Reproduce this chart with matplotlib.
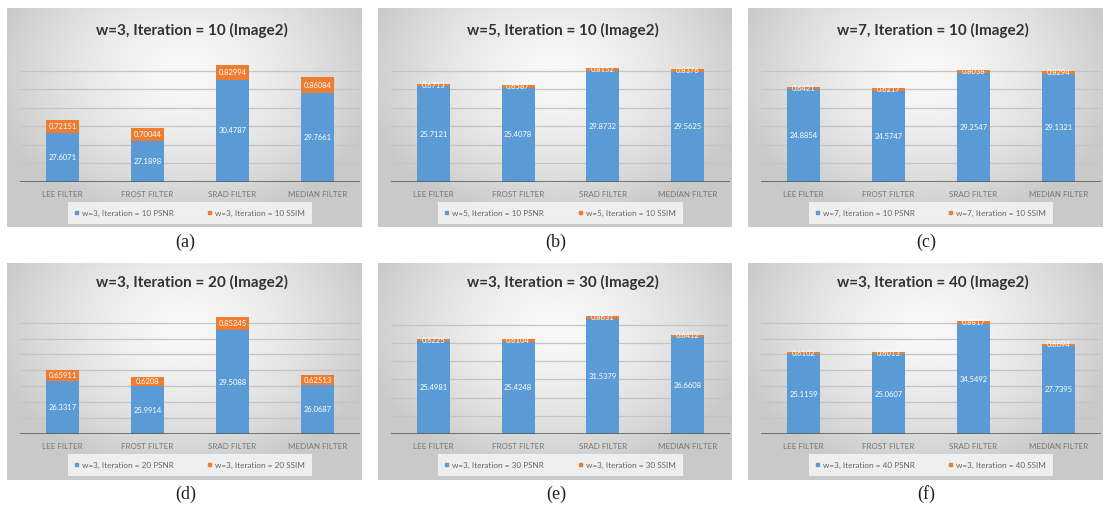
import numpy as np
import matplotlib
matplotlib.use("Agg")
import matplotlib.pyplot as plt
from matplotlib.patches import Patch

# ---------------- data ----------------
categories = ["LEE FILTER", "FROST FILTER", "SRAD FILTER", "MEDIAN FILTER"]

titles = ["w=3, Iteration = 10 (Image2)", "w=5, Iteration = 10 (Image2)",
          "w=7, Iteration = 10 (Image2)", "w=3, Iteration = 20 (Image2)",
          "w=3, Iteration = 30 (Image2)", "w=3, Iteration = 40 (Image2)"]
series_names = ["w=3, Iteration = 10", "w=5, Iteration = 10", "w=7, Iteration = 10",
                "w=3, Iteration = 20", "w=3, Iteration = 30", "w=3, Iteration = 40"]
captions = ["(a)", "(b)", "(c)", "(d)", "(e)", "(f)"]

psnr_a = [27.6071, 27.1898, 30.4787, 29.7661]
ssim_a = [0.72151, 0.70044, 0.82994, 0.86084]
psnr_b = [25.7121, 25.4078, 29.8732, 29.5625]
ssim_b = [0.6713, 0.6587, 0.8152, 0.8376]
psnr_c = [24.8854, 24.5747, 29.2547, 29.1321]
ssim_c = [0.6421, 0.6217, 0.8038, 0.8294]
psnr_d = [26.3317, 25.9914, 29.5088, 26.0687]
ssim_d = [0.65911, 0.6208, 0.85245, 0.62513]
psnr_e = [25.4981, 25.4248, 31.5379, 26.6608]
ssim_e = [0.6225, 0.6104, 0.8631, 0.6412]
psnr_f = [25.1159, 25.0607, 34.5492, 27.7395]
ssim_f = [0.6102, 0.6013, 0.8817, 0.6694]

psnr_all = [psnr_a, psnr_b, psnr_c, psnr_d, psnr_e, psnr_f]
ssim_all = [ssim_a, ssim_b, ssim_c, ssim_d, ssim_e, ssim_f]
y_ranges = [(25, 32, 1), (0, 35, 5), (0, 35, 5), (23, 31, 1), (0, 35, 5), (0, 40, 5)]

# ---------------- layout (pixels) ----------------
W, H = 1106, 508
fig = plt.figure(figsize=(W / 100, H / 100), dpi=100)
fig.patch.set_facecolor("white")

col_left = [7, 378, 748]
col_right = [362, 732, 1103]
row_top = [8, 263]
row_bot = [227, 480]
plot_top = [52, 306.7]
plot_bot = [181.7, 434]
title_y = [30, 282]
legend_y = [213, 465]
caption_y = [242, 494]

BLUE = "#5B9BD5"
ORANGE = "#ED7D31"

def fx(px):
    return px / W

def fy(py):
    return 1 - py / H

# radial gradient for panel background
gy, gx = np.mgrid[0:200, 0:300]
r = np.sqrt(((gx - 150) / 165.0) ** 2 + ((gy - 60) / 135.0) ** 2)
r = np.clip(r, 0, 1)
c_in = np.array([0.975, 0.975, 0.975])
c_out = np.array([0.79, 0.79, 0.79])
grad = c_in[None, None, :] * (1 - r[..., None] ** 1.5) + c_out[None, None, :] * (r[..., None] ** 1.5)

for k in range(6):
    row, col = divmod(k, 3)
    L, R = col_left[col], col_right[col]
    T, B = row_top[row], row_bot[row]
    # background panel
    bg = fig.add_axes([fx(L), fy(B), fx(R - L), (B - T) / H])
    bg.imshow(grad, aspect="auto", extent=[0, 1, 0, 1], interpolation="bilinear")
    bg.set_axis_off()

    # plot area
    pl, pr = L + 13, R - 2
    pt, pb = plot_top[row], plot_bot[row]
    ax = fig.add_axes([fx(pl), fy(pb), fx(pr - pl), (pb - pt) / H])
    ax.patch.set_alpha(0)
    ymin, ymax, step = y_ranges[k]
    psnr = psnr_all[k]
    ssim = ssim_all[k]
    x = np.arange(len(categories))

    for g in np.arange(ymin + step, ymax - step / 2, step):
        ax.axhline(g, color="#c4c4c4", lw=0.9, zorder=0)
    ax.bar(x, psnr, width=0.39, color=BLUE, zorder=2)
    ax.bar(x, ssim, width=0.39, bottom=psnr, color=ORANGE, zorder=2)
    ax.axhline(ymin, color="#555555", lw=1.8, zorder=3)

    for i in range(len(categories)):
        ax.text(x[i], (max(ymin, 0) + psnr[i]) / 2, str(psnr[i]), ha="center",
                va="center", color="white", fontsize=5.5, family="Lato", zorder=4)
        ax.text(x[i], psnr[i] + ssim[i] / 2, str(ssim[i]), ha="center",
                va="center", color="white", fontsize=5.5, family="Lato", zorder=4)

    ax.set_xlim(-0.5, 3.5)
    ax.set_ylim(ymin, ymax)
    ax.set_yticks([])
    ax.set_xticks(x)
    ax.set_xticklabels(categories, fontsize=5.8, color="#777777", family="Lato")
    ax.tick_params(axis="x", length=0, pad=6.5)
    for s in ax.spines.values():
        s.set_visible(False)

    cx = (pl + pr) / 2 + 2
    fig.text(fx(cx), fy(title_y[row]), titles[k], ha="center", va="center",
             fontsize=11, fontweight="bold", family="Lato", color="#333333")

    handles = [Patch(color=BLUE, label=series_names[k] + " PSNR"),
               Patch(color=ORANGE, label=series_names[k] + " SSIM")]
    leg = ax.legend(handles=handles, loc="center", ncol=2,
                    bbox_to_anchor=(fx(cx - 2), fy(legend_y[row])),
                    bbox_transform=fig.transFigure, frameon=True,
                    fontsize=5.9, handlelength=0.35, handleheight=0.35,
                    handletextpad=0.5, columnspacing=4.2, borderpad=0.9,
                    borderaxespad=0, fancybox=False)
    leg.get_frame().set_facecolor("#f3f3f3")
    leg.get_frame().set_edgecolor("none")
    leg.get_frame().set_alpha(0.9)
    for t in leg.get_texts():
        t.set_color("#666666")
        t.set_family("Lato")

    fig.text(fx((L + R) / 2 + 1), fy(caption_y[row]), captions[k], ha="center",
             va="center", fontsize=13, family="Liberation Serif", color="#222222")

fig.savefig("out.png", dpi=100)
